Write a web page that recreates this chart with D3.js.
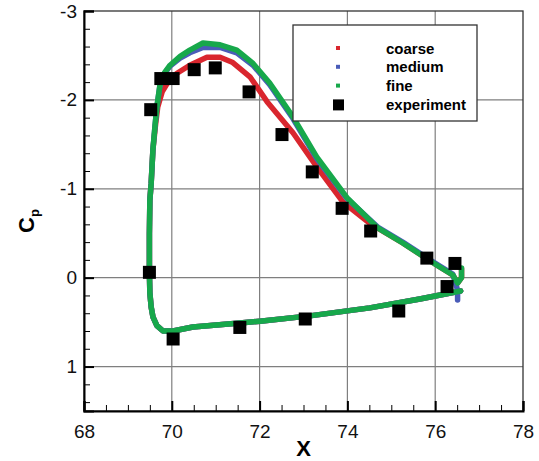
<!DOCTYPE html>
<html>
<head>
<meta charset="utf-8">
<script src="https://cdn.jsdelivr.net/npm/d3@7"></script>
<style>
  body { margin: 0; background: #fff; }
  svg { display: block; font-family: "Liberation Sans", Arial, sans-serif; }
</style>
</head>
<body>
<svg id="chart" width="539" height="461"></svg>
<script>
// surface Cp, each point is [X, Cp]; lower surface from trailing edge to leading edge, then upper surface back
var fine = [
  [76.58, 0.15], [75.65, 0.24], [74.51, 0.34], [73.14, 0.43], [72.01, 0.49], [71.55, 0.51],
  [70.48, 0.555], [70.03, 0.60], [69.80, 0.60], [69.66, 0.54], [69.57, 0.44], [69.53, 0.33],
  [69.50, 0.17], [69.49, -0.05], [69.49, -0.50], [69.50, -0.87], [69.53, -1.06], [69.57, -1.44],
  [69.62, -1.72], [69.66, -1.92], [69.73, -2.17], [69.84, -2.31], [69.96, -2.39], [70.19, -2.49],
  [70.41, -2.56], [70.71, -2.64], [71.10, -2.62], [71.48, -2.56], [71.85, -2.41], [72.23, -2.19],
  [72.76, -1.81], [73.30, -1.36], [73.99, -0.90], [74.69, -0.56], [75.26, -0.39], [76.04, -0.14],
  [76.40, -0.03], [76.51, 0.06], [76.60, 0.00], [76.60, -0.11]
];
var medium = [
  [76.58, 0.15], [75.65, 0.24], [74.51, 0.34], [73.14, 0.43], [72.01, 0.49], [71.55, 0.51],
  [70.48, 0.555], [70.03, 0.60], [69.80, 0.60], [69.66, 0.54], [69.57, 0.44], [69.53, 0.33],
  [69.50, 0.17], [69.49, -0.05], [69.49, -0.50], [69.50, -0.87], [69.53, -1.06], [69.57, -1.44],
  [69.62, -1.72], [69.66, -1.92], [69.73, -2.16], [69.84, -2.30], [69.96, -2.38], [70.19, -2.47],
  [70.41, -2.53], [70.71, -2.59], [71.10, -2.59], [71.48, -2.53], [71.85, -2.39], [72.23, -2.17],
  [72.76, -1.79], [73.30, -1.34], [73.99, -0.89], [74.69, -0.57], [75.26, -0.40], [76.04, -0.15],
  [76.40, -0.04], [76.51, 0.14], [76.51, 0.25]
];
var coarse = [
  [76.58, 0.15], [75.65, 0.24], [74.51, 0.34], [73.14, 0.43], [72.01, 0.49], [71.55, 0.51],
  [70.48, 0.555], [70.03, 0.60], [69.80, 0.60], [69.66, 0.54], [69.57, 0.44], [69.53, 0.33],
  [69.50, 0.17], [69.49, -0.05], [69.49, -0.50], [69.50, -0.87], [69.53, -1.06], [69.57, -1.44],
  [69.63, -1.72], [69.68, -1.92], [69.78, -2.09], [69.89, -2.18], [70.12, -2.30], [70.41, -2.39],
  [70.80, -2.48], [71.10, -2.48], [71.39, -2.42], [71.78, -2.26], [72.17, -1.98], [72.76, -1.63],
  [73.30, -1.25], [73.90, -0.85], [74.51, -0.61], [75.26, -0.39], [76.04, -0.14],
  [76.40, -0.03], [76.51, 0.06], [76.60, 0.00], [76.60, -0.10]
];
var experiment = [
  [69.52, -1.89], [69.75, -2.24], [70.03, -2.24], [70.51, -2.34], [70.99, -2.36], [71.76, -2.09],
  [72.51, -1.61], [73.20, -1.19], [73.88, -0.78], [74.53, -0.525], [75.81, -0.22], [76.45, -0.16],
  [76.27, 0.10], [75.17, 0.375], [73.04, 0.465], [71.55, 0.56], [70.03, 0.69], [69.49, -0.06]
];
var xTicks = [68, 70, 72, 74, 76, 78];
var yTicks = [-3, -2, -1, 0, 1];
var seriesNames = ["coarse", "medium", "fine", "experiment"];
var seriesColors = ["#d9262e", "#4a5cb8", "#17a84b", "#000"];

var svg = d3.select("#chart");
var m = { left: 84, right: 523, top: 11, bottom: 411 };

var x = d3.scaleLinear().domain([68, 78]).range([m.left, m.right]);
var y = d3.scaleLinear().domain([-3, 1.5]).range([m.top, m.bottom]);

// grid
var grid = svg.append("g").attr("stroke", "#7f7f7f").attr("stroke-width", 1.2);
grid.selectAll(".gx").data(xTicks.slice(1, -1)).join("line")
  .attr("x1", d => x(d)).attr("x2", d => x(d)).attr("y1", m.top).attr("y2", m.bottom);
grid.selectAll(".gy").data(yTicks.slice(1)).join("line")
  .attr("x1", m.left).attr("x2", m.right).attr("y1", d => y(d)).attr("y2", d => y(d));

// frame
svg.append("rect").attr("x", m.left).attr("y", m.top).attr("width", m.right - m.left).attr("height", m.bottom - m.top)
  .attr("fill", "none").attr("stroke", "#333").attr("stroke-width", 1.3);

// axes with inward ticks, plain hyphen for negatives
var fmt = d => String(d);
var xAxis = g => g.attr("transform", `translate(0,${m.bottom})`)
  .call(d3.axisBottom(x).tickValues(xTicks).tickSize(-10).tickPadding(14).tickFormat(fmt))
  .call(g => g.selectAll(".tick line").attr("stroke-width", 2))
  .call(g => g.select(".domain").attr("stroke-width", 2));
var xMinor = g => g.attr("transform", `translate(0,${m.bottom})`)
  .call(d3.axisBottom(x).tickValues(d3.range(68, 78.01, 0.5).filter(v => v % 2 !== 0)).tickSize(-6).tickFormat(""))
  .call(g => g.select(".domain").remove());
var yAxis = g => g.attr("transform", `translate(${m.left},0)`)
  .call(d3.axisLeft(y).tickValues(yTicks).tickSize(-10).tickPadding(7).tickFormat(fmt))
  .call(g => g.selectAll(".tick line").attr("stroke-width", 2))
  .call(g => g.select(".domain").attr("stroke-width", 2));
var yMinor = g => g.attr("transform", `translate(${m.left},0)`)
  .call(d3.axisLeft(y).tickValues(d3.range(-3, 1.51, 0.2).map(v => Math.round(v * 10) / 10).filter(v => v % 1 !== 0)).tickSize(-6).tickFormat(""))
  .call(g => g.select(".domain").remove());

svg.append("g").call(xMinor);
svg.append("g").call(yMinor);
svg.append("g").call(xAxis).selectAll("text").attr("font-size", 19).attr("fill", "#111")
  .attr("font-family", "Liberation Sans, Arial, sans-serif");
svg.append("g").call(yAxis).selectAll("text").attr("font-size", 19).attr("fill", "#111")
  .attr("font-family", "Liberation Sans, Arial, sans-serif");

// titles
svg.append("text").attr("x", (m.left + m.right) / 2).attr("y", 456).attr("text-anchor", "middle")
  .attr("font-size", 22).attr("font-weight", "bold").text("X");
var yt = svg.append("text").attr("transform", "translate(34,233) rotate(-90)")
  .attr("font-size", 22).attr("font-weight", "bold");
yt.append("tspan").text("C");
yt.append("tspan").attr("font-size", 13).attr("dy", 5).text("p");

// curves
var line = d3.line().x(d => x(d[0])).y(d => y(d[1]));
[coarse, medium, fine].forEach((s, i) => {
  svg.append("path").datum(s).attr("d", line).attr("fill", "none")
    .attr("stroke", seriesColors[i]).attr("stroke-width", 5.5)
    .attr("stroke-linejoin", "round").attr("stroke-linecap", "round");
});

// experiment
var sq = 13;
svg.append("g").selectAll("rect").data(experiment).join("rect")
  .attr("x", d => x(d[0]) - sq / 2).attr("y", d => y(d[1]) - sq / 2)
  .attr("width", sq).attr("height", sq).attr("fill", "#000");

// legend
var lg = svg.append("g").attr("transform", "translate(293,25)");
lg.append("rect").attr("width", 184).attr("height", 96).attr("fill", "#fff")
  .attr("stroke", "#333").attr("stroke-width", 1.3);
var items = lg.selectAll("g").data(seriesNames).join("g")
  .attr("transform", (d, i) => `translate(0,${23 + i * 18.8})`);
items.append("rect")
  .attr("x", (d, i) => i < 3 ? 43 : 40).attr("y", (d, i) => i < 3 ? -2 : -5)
  .attr("width", (d, i) => i < 3 ? 4 : 11).attr("height", (d, i) => i < 3 ? 4 : 11)
  .attr("fill", (d, i) => seriesColors[i]);
items.append("text").attr("x", 93).attr("y", 5.5).attr("font-size", 15).attr("font-weight", "bold")
  .text(d => d);
</script>
</body>
</html>
